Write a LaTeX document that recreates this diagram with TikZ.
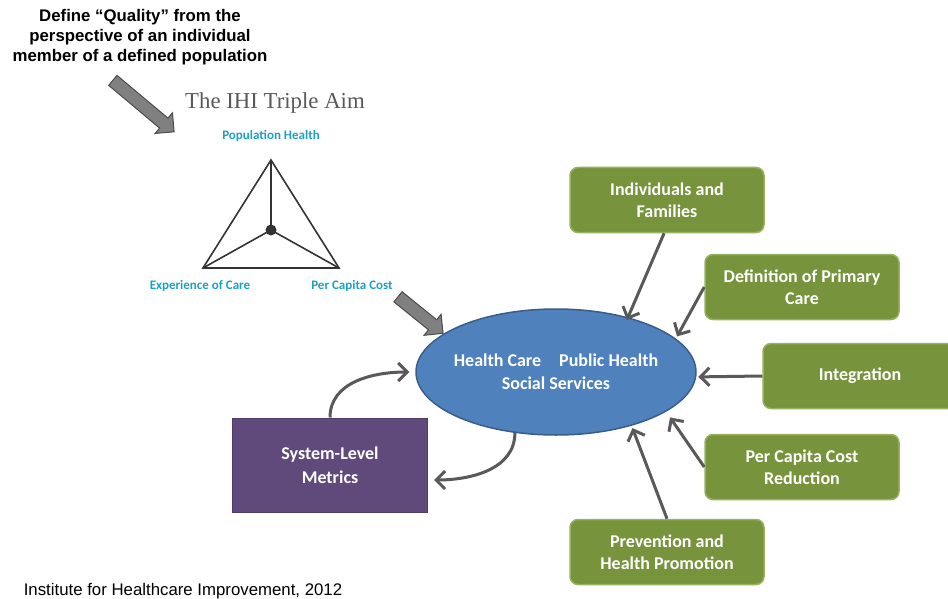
\documentclass[tikz,border=0pt]{standalone}
\usepackage{fontspec}
\usepackage{xcolor}
\usetikzlibrary{shapes.geometric,shapes.arrows,arrows.meta}

\setmainfont{Liberation Sans}
\newfontfamily\calfont{Carlito}
\newfontfamily\serfont{Liberation Serif}

\definecolor{hcblue}{RGB}{79,129,189}
\definecolor{hcedge}{RGB}{56,93,138}
\definecolor{boxgreen}{RGB}{119,147,60}
\definecolor{greenedge}{RGB}{150,178,95}
\definecolor{metpurple}{RGB}{96,74,123}
\definecolor{metedge}{RGB}{80,60,105}
\definecolor{aimcyan}{RGB}{30,160,195}
\definecolor{arrgray}{RGB}{89,89,89}

\tikzset{
  greenbox/.style={draw=greenedge, line width=1.5pt, fill=boxgreen, rounded corners=8pt,
    minimum width=194pt, minimum height=65pt, text=white, align=center,
    font=\calfont\bfseries\fontsize{18}{22}\selectfont},
  aimlabel/.style={text=aimcyan, font=\calfont\bfseries\fontsize{13}{15}\selectfont},
  arr/.style={draw=arrgray, line width=3pt, -{Straight Barb[length=9pt,width=18pt]}},
  blockarrow/.style={single arrow, draw=black!70, line width=1pt, fill=black!50,
    inner sep=6pt, single arrow head extend=7pt, single arrow head indent=0pt}
}

\begin{document}
\begin{tikzpicture}[x=1pt,y=-1pt]
\useasboundingbox (0,0) rectangle (948,599);

\node[align=center, font=\bfseries\fontsize{16.8}{20}\selectfont] (quality) at (140,37)
  {Define ``Quality'' from the\\perspective of an individual\\member of a defined population};

\node[blockarrow, minimum height=80pt, rotate=-40] (qarrow) at (141,104) {};

\node[text=black!65, font=\serfont\fontsize{22.8}{26}\selectfont] (aim) at (275,103) {The IHI Triple Aim};

% triple aim triangle
\coordinate (top) at (271,160);
\coordinate (left) at (203,268);
\coordinate (right) at (339,268);
\coordinate (mid) at (271,230);
\draw[black!80, line width=1.6pt] (top)--(left)--(right)--cycle;
\draw[black!80, line width=1.6pt] (top)--(mid) (left)--(mid) (right)--(mid);
\fill[black!80] (mid) circle (5.5pt);

\node[aimlabel] (pophealth) at (271,136) {Population Health};
\node[aimlabel] (experience) at (200,286) {Experience of Care};
\node[aimlabel] (percapita) at (352,286) {Per Capita Cost};

\node[blockarrow, minimum height=58pt, rotate=-39] (aarrow) at (418,313) {};

\node[ellipse, draw=hcedge, line width=1.5pt, fill=hcblue, minimum width=280pt, minimum height=126pt,
  label={[text=white, align=center, font=\calfont\bfseries\fontsize{18}{23}\selectfont]center:Health Care\quad Public Health\\Social Services}]
  (hc) at (556,372) {};

\node[draw=metedge, line width=1pt, fill=metpurple, minimum width=195pt, minimum height=94pt,
  text=white, align=center, font=\calfont\bfseries\fontsize{18}{24}\selectfont] (metrics) at (330,465)
  {System-Level\\Metrics};

\node[greenbox] (indiv) at (667,200) {Individuals and\\Families};
\node[greenbox] (primary) at (802,287) {Definition of Primary\\Care};
\node[greenbox] (integ) at (860,376) {Integration};
\node[greenbox] (reduct) at (802,467) {Per Capita Cost\\Reduction};
\node[greenbox] (prevent) at (667,552) {Prevention and\\Health Promotion};

\draw[arr] (indiv.265) -- ([shift={(4pt,-4pt)}]hc.40);
\draw[arr] (primary.west) -- ([shift={(9pt,-3pt)}]hc.19);
\draw[arr] (integ.west) -- ([xshift=2pt]hc.-2);
\draw[arr] (reduct.west) -- ([shift={(9pt,-3pt)}]hc.-22);
\draw[arr] (prevent.north) -- ([shift={(2pt,-2pt)}]hc.-36);

\draw[arr] (metrics.north) to[out=90,in=180] ([xshift=-6pt]hc.west);
\draw[arr] (hc.-124) to[out=-90,in=0] ([shift={(6pt,-15pt)}]metrics.east);

\node[font=\fontsize{16.8}{19}\selectfont] (source) at (183,591) {Institute for Healthcare Improvement, 2012};
\end{tikzpicture}
\end{document}
